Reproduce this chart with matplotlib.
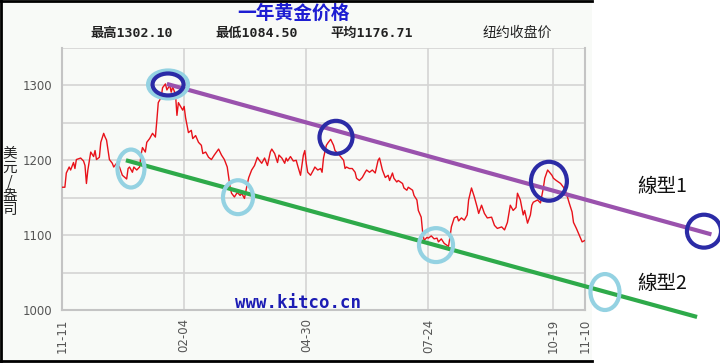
import matplotlib
matplotlib.use("Agg")
import matplotlib.pyplot as plt
from matplotlib.patches import Ellipse, Rectangle
from matplotlib.lines import Line2D
from matplotlib.ticker import MultipleLocator

# day offsets from 2014-11-11 and NY closing price (USD/oz)
days = [0, 2, 3, 5, 6, 8, 9, 10, 13, 15, 16, 17, 18, 20, 22, 23, 24, 26, 27, 29,
        30, 31, 33, 35, 36, 38, 40, 42, 45, 46, 47, 49, 50, 52, 54, 55, 56, 58, 59, 61,
        63, 65, 66, 67, 69, 70, 72, 73, 75, 76, 77, 79, 80, 81, 84, 85, 86, 88, 90, 91,
        93, 95, 97, 98, 100, 102, 104, 106, 109, 110, 111, 113, 115, 116, 117, 118, 120, 122, 124, 125,
        127, 129, 130, 132, 134, 136, 137, 139, 141, 143, 145, 146, 148, 150, 151, 153, 155, 156, 157, 159,
        161, 163, 164, 166, 168, 169, 170, 171, 173, 175, 176, 178, 180, 181, 182, 184, 185, 187, 189, 190,
        191, 193, 196, 197, 198, 200, 202, 204, 205, 207, 209, 211, 212, 214, 216, 218, 220, 221, 223, 225,
        227, 228, 230, 231, 233, 234, 237, 238, 240, 241, 244, 245, 247, 248, 250, 251, 252, 254, 255, 257,
        259, 261, 262, 264, 266, 269, 270, 271, 273, 275, 276, 278, 280, 282, 283, 285, 287, 289, 290, 292,
        294, 296, 299, 301, 303, 306, 308, 310, 312, 314, 316, 317, 319, 321, 322, 324, 326, 327, 328, 331,
        333, 335, 336, 338, 341, 342, 344, 347, 349, 351, 353, 355, 356, 358, 360, 362, 364]
prices = [1164, 1164, 1183, 1191, 1187, 1197, 1189, 1201, 1203, 1199, 1193, 1169, 1187, 1211, 1205, 1213, 1201, 1204, 1224, 1236,
          1231, 1227, 1201, 1196, 1191, 1196, 1191, 1180, 1175, 1189, 1191, 1184, 1191, 1187, 1191, 1207, 1217, 1211, 1224, 1229,
          1236, 1231, 1253, 1277, 1284, 1297, 1302, 1294, 1300, 1291, 1298, 1288, 1260, 1277, 1267, 1272, 1257, 1237, 1240, 1229,
          1233, 1224, 1220, 1209, 1211, 1204, 1201, 1207, 1215, 1211, 1207, 1201, 1191, 1177, 1164, 1156, 1151, 1157, 1153, 1156,
          1149, 1169, 1177, 1187, 1193, 1204, 1201, 1196, 1203, 1193, 1211, 1215, 1209, 1197, 1207, 1203, 1196, 1203, 1199, 1205,
          1199, 1200, 1193, 1180, 1207, 1213, 1196, 1184, 1180, 1187, 1191, 1187, 1189, 1184, 1203, 1220, 1223, 1228, 1220, 1213,
          1211, 1207, 1200, 1189, 1191, 1189, 1189, 1184, 1176, 1173, 1177, 1184, 1187, 1184, 1187, 1183, 1200, 1203, 1187, 1177,
          1180, 1173, 1183, 1176, 1171, 1173, 1169, 1163, 1160, 1164, 1160, 1153, 1147, 1133, 1124, 1104, 1093, 1097, 1096, 1099,
          1095, 1096, 1091, 1095, 1089, 1085, 1097, 1111, 1123, 1125, 1119, 1123, 1120, 1127, 1147, 1163, 1151, 1137, 1129, 1140,
          1129, 1123, 1124, 1113, 1109, 1111, 1107, 1117, 1140, 1133, 1137, 1156, 1147, 1127, 1133, 1116, 1127, 1140, 1144, 1147,
          1143, 1163, 1176, 1187, 1180, 1176, 1173, 1169, 1164, 1156, 1143, 1131, 1117, 1109, 1100, 1091, 1093]

tick_days = [0, 85, 170, 255, 342, 364]
tick_labels = ['11-11', '02-04', '04-30', '07-24', '10-19', '11-10']

title = '一年黄金价格'
stats = ['最高1302.10', '最低1084.50', '平均1176.71']
source_note = '纽约收盘价'
unit_label = '美\n元\n/\n盎\n司'
watermark = 'www.kitco.cn'

# hand-drawn trend lines (day, price) and their labels
trend1_days = [73, 452]
trend1_prices = [1302, 1101]
trend2_days = [44.5, 442]
trend2_prices = [1200, 990.7]
trend_labels = ['線型1', '線型2']

# circled touch points: centre day, centre price, width (days), height (price)
dark_marks = [(73.8, 1301.3, 21.6, 29.3), (190.7, 1230.7, 23, 44),
              (338.9, 1172, 25, 52), (446.8, 1105.3, 23.7, 44)]
light_marks = [(73.8, 1301.3, 27.8, 37.3), (48, 1189, 18.8, 50.7),
               (122.5, 1150.7, 20.9, 45.3), (260.3, 1086.7, 23.7, 45.3),
               (377.9, 1024, 20.2, 48)]

W, H = 720, 363
fig = plt.figure(figsize=(W / 100, H / 100), dpi=100)
fig.patch.set_facecolor('white')

# kitco chart panel background and black frame
fig.patches.append(Rectangle((0, 0), 592 / W, 1, transform=fig.transFigure,
                             facecolor='#f8faf7', edgecolor='none', zorder=-5))
for xs, ys in [([0, 592 / W], [1 - 1 / H, 1 - 1 / H]),
               ([1 / W, 1 / W], [2 / H, 1]),
               ([0, 592 / W], [2 / H, 2 / H])]:
    fig.add_artist(Line2D(xs, ys, transform=fig.transFigure, color='black', lw=2))

ax = fig.add_axes([62 / W, 1 - 310 / H, 523 / W, 262 / H])
ax.set_facecolor('#f8faf7')
ax.plot(days, prices, color='#e8121a', lw=1.0, zorder=3)

ax.set_xlim(0, 364)
ax.set_ylim(1000, 1350)
ax.set_xticks(tick_days)
ax.set_xticklabels(tick_labels, rotation=90, family='DejaVu Sans', fontsize=8.5, color='#555555')
ax.yaxis.set_major_locator(MultipleLocator(100))
ax.yaxis.set_minor_locator(MultipleLocator(50))
ax.set_yticks([1000, 1100, 1200, 1300])
ax.set_yticklabels(['1000', '1100', '1200', '1300'], fontsize=8.5, color='#555555')
ax.tick_params(axis='both', which='both', length=0)
ax.tick_params(axis='x', pad=6)
ax.tick_params(axis='y', pad=7)
ax.grid(True, which='both', axis='y', color='#d4d4d4', lw=1.2)
ax.grid(True, which='major', axis='x', color='#d4d4d4', lw=1.2)
ax.set_axisbelow(True)
for s in ax.spines.values():
    s.set_color('#c4c4c4')
    s.set_linewidth(1.5)
ax.spines['top'].set_visible(False)

ax.text(164, 1009, watermark, family='DejaVu Sans Mono', fontweight='bold',
        fontsize=12.5, color='#1c1cb4', ha='center', va='center', zorder=2)

# trend lines drawn past the axes edge
ax.plot(trend1_days, trend1_prices, color='#9a52ad', lw=3, clip_on=False, zorder=5,
        solid_capstyle='butt')
ax.plot(trend2_days, trend2_prices, color='#2eaa4a', lw=3, clip_on=False, zorder=5,
        solid_capstyle='butt')
for (d, p, w, h) in light_marks:
    ax.add_patch(Ellipse((d, p), w, h, fill=False, edgecolor='#94d2e2', lw=3,
                         clip_on=False, zorder=6))
for (d, p, w, h) in dark_marks:
    ax.add_patch(Ellipse((d, p), w, h, fill=False, edgecolor='#2b2ba6', lw=3,
                         clip_on=False, zorder=7))

cjk = ['Noto Sans CJK TC', 'DejaVu Sans']
ax.text(417.5, 1165, trend_labels[0], family=cjk, fontsize=14, color='#111111',
        ha='center', va='center', clip_on=False)
ax.text(417.5, 1036, trend_labels[1], family=cjk, fontsize=14, color='#111111',
        ha='center', va='center', clip_on=False)

# header
fig.text(293 / W, 1 - 13 / H, title, family=['Noto Sans CJK SC', 'DejaVu Sans'],
         fontsize=13.5, fontweight='bold', color='#1e1ed2', ha='center', va='center')
mixed = ['DejaVu Sans Mono', 'Noto Sans CJK SC']
for txt, x in zip(stats, [90, 215, 330]):
    fig.text(x / W, 1 - 33 / H, txt, family=mixed, fontsize=9.5, fontweight='bold',
             color='#222222', ha='left', va='center')
fig.text(517 / W, 1 - 33 / H, source_note, family=['Noto Sans CJK SC', 'DejaVu Sans'],
         fontsize=10, color='#222222', ha='center', va='center')

ax.text(-52 / 523, 0.49, unit_label, transform=ax.transAxes,
        family=['Noto Sans CJK SC', 'DejaVu Sans'], fontsize=10.5, color='#222222',
        ha='center', va='center', linespacing=1.0)

fig.savefig('out.png', dpi=100)
